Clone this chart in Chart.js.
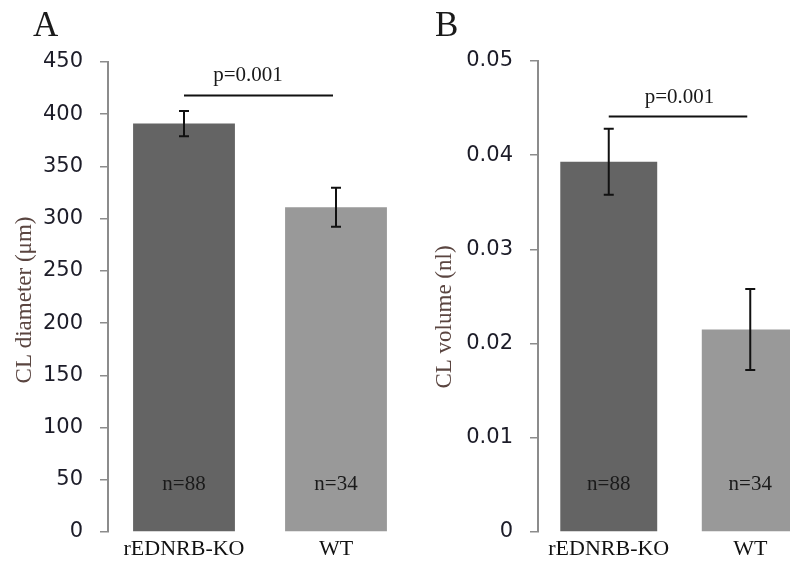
<!DOCTYPE html>
<html>
<head>
<meta charset="utf-8">
<script src="https://cdn.jsdelivr.net/npm/chart.js@4.4.0/dist/chart.umd.min.js"></script>
<style>
  html, body { margin: 0; padding: 0; background: #fff; overflow: hidden; width: 790px; height: 562px; position: relative; }
  canvas { position: absolute; top: 0; }
  #chartA { left: 0; }
  #chartB { left: 420px; }
</style>
</head>
<body>
<canvas id="chartA" width="420" height="562"></canvas>
<canvas id="chartB" width="420" height="562"></canvas>
<script>
// groups and values
const groups = ['rEDNRB-KO', 'WT'];
const groupN = ['n=88', 'n=34'];
const pValue = 'p=0.001';

// panel A: CL diameter (um)
const diameterMean = [391, 311];
const diameterErr = [12, 18.7];
const diameterMax = 450;
const diameterStep = 50;
const diameterPLine = 418;

// panel B: CL volume (nl)
const volumeMean = [0.0393, 0.0215];
const volumeErr = [0.0035, 0.0043];
const volumeMax = 0.05;
const volumeStep = 0.01;
const volumePLine = 0.0441;

const SERIF = "'Liberation Serif', 'Times New Roman', serif";
const SANS = "'DejaVu Sans', Verdana, sans-serif";

// error bars, n labels, p bracket, panel letter, axis title
function decor(p) {
  return {
    id: 'decor',
    afterDatasetsDraw(chart) {
      const ctx = chart.ctx;
      const y = chart.scales.y;
      const bars = chart.getDatasetMeta(0).data;
      const area = chart.chartArea;
      ctx.save();
      ctx.strokeStyle = '#111';
      ctx.lineWidth = 2;
      bars.forEach((bar, i) => {
        const top = y.getPixelForValue(p.mean[i] + p.err[i]);
        const bot = y.getPixelForValue(p.mean[i] - p.err[i]);
        ctx.beginPath();
        ctx.moveTo(bar.x, top); ctx.lineTo(bar.x, bot);
        ctx.moveTo(bar.x - 5, top); ctx.lineTo(bar.x + 5, top);
        ctx.moveTo(bar.x - 5, bot); ctx.lineTo(bar.x + 5, bot);
        ctx.stroke();
        ctx.fillStyle = '#1a1a1a';
        ctx.font = '21px ' + SERIF;
        ctx.textAlign = 'center';
        ctx.textBaseline = 'alphabetic';
        ctx.fillText(groupN[i], bar.x, area.bottom - 42);
      });
      // significance line
      const ly = y.getPixelForValue(p.pLine);
      ctx.beginPath();
      ctx.moveTo(bars[0].x, ly);
      ctx.lineTo(bars[1].x - 3, ly);
      ctx.stroke();
      ctx.fillText(pValue, (bars[0].x + bars[1].x) / 2 + p.pShift, ly - 14);
      // panel letter
      ctx.font = '35px ' + SERIF;
      ctx.textAlign = 'left';
      ctx.fillText(p.letter, p.letterX, 36);
      // y axis title
      ctx.translate(p.titleX, p.titleY);
      ctx.rotate(-Math.PI / 2);
      ctx.font = '23px ' + SERIF;
      ctx.fillStyle = '#5a4540';
      ctx.textAlign = 'center';
      ctx.textBaseline = 'middle';
      ctx.fillText(p.title, 0, 0);
      ctx.restore();
    }
  };
}

function makeChart(id, p) {
  return new Chart(document.getElementById(id), {
    type: 'bar',
    data: {
      labels: groups,
      datasets: [{
        data: p.mean,
        backgroundColor: ['#646464', '#999999'],
        borderWidth: 0,
        barPercentage: p.barPct,
        categoryPercentage: 1
      }]
    },
    options: {
      responsive: false,
      animation: false,
      layout: { padding: { top: p.top, right: p.right, left: 0, bottom: 0 } },
      plugins: { legend: { display: false }, tooltip: { enabled: false } },
      scales: {
        x: {
          grid: { display: false },
          border: { display: false },
          ticks: { color: '#111', font: { family: SERIF, size: 22 }, padding: -4, maxRotation: 0 },
          afterFit: s => { s.height = 30; }
        },
        y: {
          min: 0,
          max: p.max,
          ticks: { stepSize: p.step, color: '#1c1c28', font: { family: SANS, size: 21 }, padding: 17 },
          grid: { display: true, drawOnChartArea: false, drawTicks: true, tickLength: 8, color: '#8c8c8c', lineWidth: 1.5 },
          border: { display: true, color: '#8c8c8c', width: 2 },
          afterFit: s => { s.width = p.axisX; }
        }
      }
    },
    plugins: [decor(p)]
  });
}

makeChart('chartA', {
  mean: diameterMean, err: diameterErr, max: diameterMax, step: diameterStep, pLine: diameterPLine,
  top: 62, right: 8, axisX: 108, barPct: 0.67, pShift: -12,
  letter: 'A', letterX: 33, title: 'CL diameter (\u03bcm)', titleX: 25, titleY: 300
});

makeChart('chartB', {
  mean: volumeMean, err: volumeErr, max: volumeMax, step: volumeStep, pLine: volumePLine,
  top: 61, right: 19, axisX: 118, barPct: 0.685, pShift: 0,
  letter: 'B', letterX: 15, title: 'CL volume (nl)', titleX: 25, titleY: 317
});
</script>
</body>
</html>
